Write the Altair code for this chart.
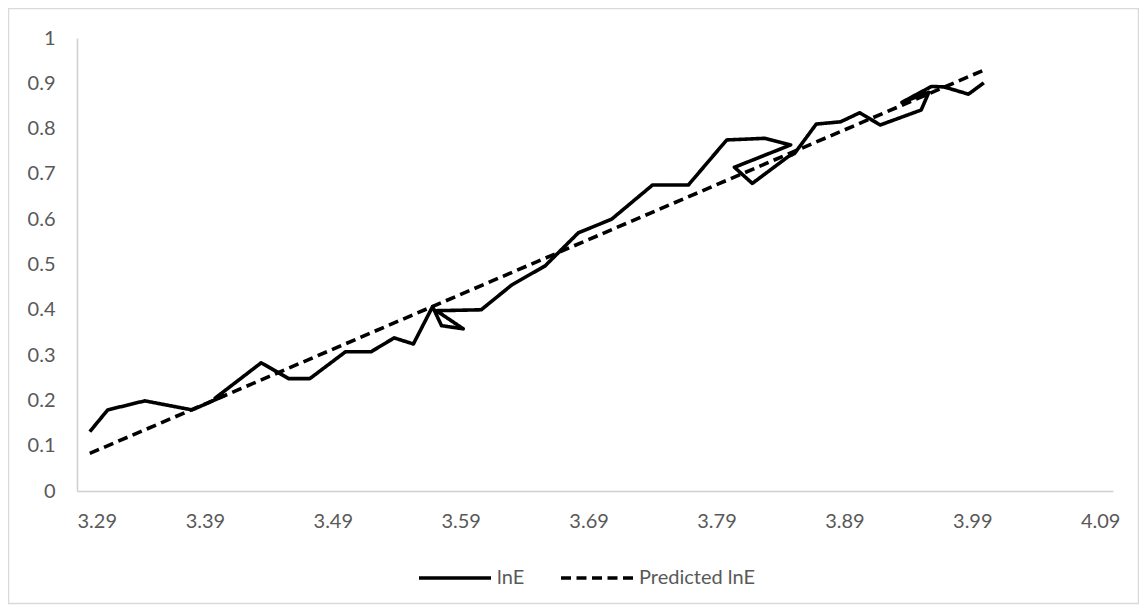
import altair as alt
import pandas as pd

# Observed lnE series (plotted in data order, x values are not monotonic)
lne_x = [3.300, 3.314, 3.343, 3.380, 3.405, 3.398, 3.434, 3.4555, 3.472, 3.500,
         3.520, 3.538, 3.553, 3.568, 3.575, 3.592, 3.571, 3.606, 3.630, 3.656,
         3.682, 3.708, 3.740, 3.768, 3.798, 3.8275, 3.848, 3.804, 3.818, 3.846,
         3.851, 3.868, 3.887, 3.902, 3.918, 3.950, 3.956, 3.935, 3.958, 3.968,
         3.987, 3.999]
lne_y = [0.131, 0.179, 0.199, 0.179, 0.210, 0.205, 0.283, 0.248, 0.248, 0.3075,
         0.3075, 0.338, 0.3245, 0.407, 0.365, 0.358, 0.398, 0.400, 0.455, 0.497,
         0.570, 0.600, 0.6755, 0.6755, 0.775, 0.7785, 0.764, 0.7146, 0.679, 0.738,
         0.745, 0.810, 0.815, 0.835, 0.808, 0.841, 0.880, 0.858, 0.893, 0.892,
         0.876, 0.901]

# Predicted lnE (straight fitted line, end points)
pred_x = [3.300, 3.999]
pred_y = [0.083, 0.929]

series_names = ["lnE", "Predicted lnE"]
x_ticks = [3.29, 3.39, 3.49, 3.59, 3.69, 3.79, 3.89, 3.99, 4.09]
y_ticks = [0, 0.1, 0.2, 0.3, 0.4, 0.5, 0.6, 0.7, 0.8, 0.9, 1]

rows = []
for i, (a, b) in enumerate(zip(lne_x, lne_y)):
    rows.append({"x": a, "y": b, "series": series_names[0], "idx": i})
for i, (a, b) in enumerate(zip(pred_x, pred_y)):
    rows.append({"x": a, "y": b, "series": series_names[1], "idx": i})
df = pd.DataFrame(rows)

FONT = "Lato"
GREY = "#595959"
AXIS_GREY = "#d0d0d0"
LW = 3.6

lines = alt.Chart(df).mark_line(color="black", strokeWidth=LW, clip=False,
                                strokeJoin="round").encode(
    x=alt.X("x:Q",
            scale=alt.Scale(domain=[3.29, 4.1], nice=False, zero=False),
            axis=alt.Axis(values=x_ticks, format=".2f", title=None, grid=False,
                          ticks=False, labelPadding=20, labelFont=FONT,
                          labelFontSize=20, labelColor=GREY,
                          domainColor=AXIS_GREY, domainWidth=1.5)),
    y=alt.Y("y:Q",
            scale=alt.Scale(domain=[0, 1], nice=False),
            axis=alt.Axis(values=y_ticks, format="~g", title=None, grid=False,
                          ticks=False, labelPadding=22, labelFont=FONT,
                          labelFontSize=20, labelColor=GREY,
                          domainColor=AXIS_GREY, domainWidth=1.5)),
    strokeDash=alt.StrokeDash(
        "series:N",
        scale=alt.Scale(domain=series_names, range=[[1, 0], [10, 5.5]]),
        legend=alt.Legend(title=None, orient="none", legendX=340, legendY=502,
                          direction="horizontal", symbolType="stroke",
                          symbolSize=5184, symbolStrokeWidth=LW,
                          symbolStrokeColor="black", labelFont=FONT,
                          labelFontSize=20, labelColor=GREY, labelOffset=4,
                          columnPadding=28)),
    order=alt.Order("idx:Q"),
)

border = alt.Chart(alt.Data(values=[{}])).mark_rect(
    filled=False, stroke="#d9d9d9", strokeWidth=1.5, clip=False
).encode(
    x=alt.value(-68.5), x2=alt.value(1061.5),
    y=alt.value(-29.5), y2=alt.value(565.5),
)

chart = alt.layer(border, lines).properties(
    width=1036, height=453,
    padding={"left": 69, "top": 30, "right": 26, "bottom": 114},
    autosize=alt.AutoSizeParams(type="none"),
    background="white",
).configure_view(stroke="transparent")

chart.save("out.html", embed_options={"renderer": "svg", "actions": False})
